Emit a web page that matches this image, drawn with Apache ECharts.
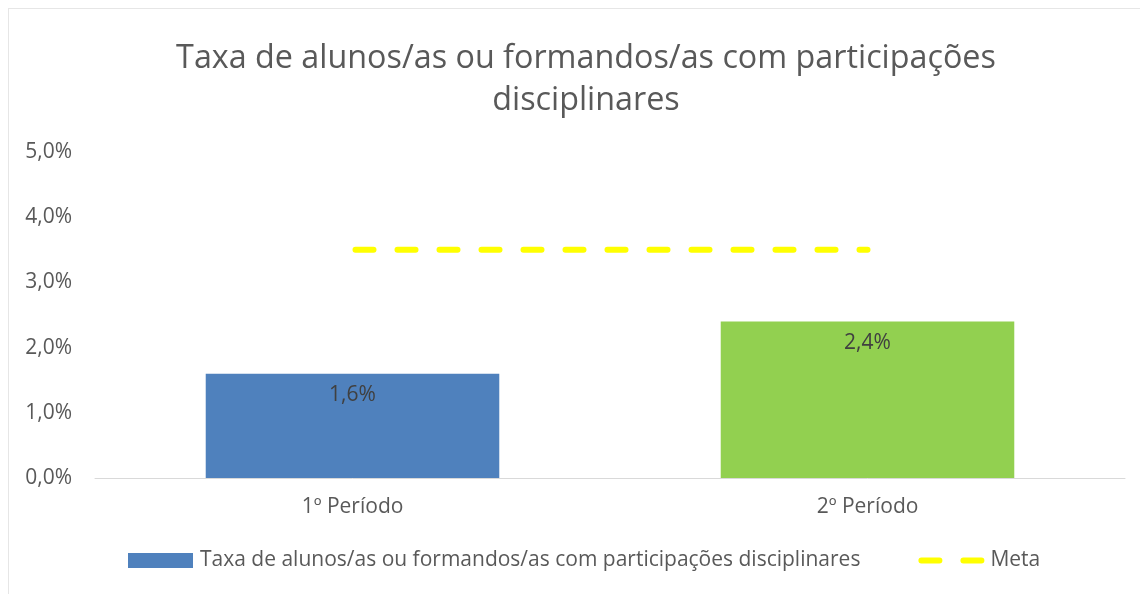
<!DOCTYPE html>
<html>
<head>
<meta charset="utf-8">
<script src="https://cdn.jsdelivr.net/npm/echarts@6/dist/echarts.min.js"></script>
<style>
  html, body { margin: 0; padding: 0; background: #fff; }
  #frame { position: absolute; left: 8px; top: 8px; width: 1200px; height: 700px; border-left: 1px solid #e6e6e6; border-top: 1px solid #e6e6e6; }
  #chart { position: absolute; left: 0; top: 0; width: 1140px; height: 594px; }
</style>
</head>
<body>
<div id="frame"></div>
<div id="chart"></div>
<script>
const categories = ["1º Período", "2º Período"];
const taxaValues = [1.6, 2.4];
const metaValues = [3.5, 3.5];
const barColors = ["#4F81BD", "#92D050"];
const serieTaxa = "Taxa de alunos/as ou formandos/as com participações disciplinares";
const serieMeta = "Meta";

const fmt = (v) => v.toFixed(1).replace(".", ",") + "%";
const font = "Open Sans";
const dash = [18, 24];

const myChart = echarts.init(document.getElementById("chart"));
const option = {
  backgroundColor: "transparent",
  title: {
    text: "Taxa de alunos/as ou formandos/as com participações\ndisciplinares",
    left: 581,
    textAlign: "center",
    top: 33,
    textStyle: {
      fontFamily: font,
      fontSize: 32.3,
      fontWeight: "normal",
      color: "#595959",
      lineHeight: 42,
    },
  },
  legend: {
    bottom: 18,
    left: 123,
    itemGap: 55,
    itemWidth: 65,
    itemHeight: 15,
    textStyle: { fontFamily: font, fontSize: 21, color: "#595959", padding: [0, 0, 0, 2] },
    data: [
      { name: serieTaxa, icon: "rect", itemStyle: { color: barColors[0] } },
      {
        name: serieMeta,
        itemStyle: { opacity: 0 },
        lineStyle: { color: "#FFFF00", width: 6, type: dash, cap: "round", dashOffset: -3 },
      },
    ],
  },
  grid: { left: 95, right: 15, top: 152, bottom: 116 },
  xAxis: {
    type: "category",
    data: categories,
    axisTick: { show: false },
    axisLine: { lineStyle: { color: "#d9d9d9", width: 1 } },
    axisLabel: { fontFamily: font, fontSize: 21, color: "#595959", margin: 19 },
  },
  yAxis: {
    type: "value",
    min: 0,
    max: 5,
    interval: 1,
    splitLine: { show: false },
    axisLabel: {
      fontFamily: font,
      fontSize: 21,
      color: "#595959",
      margin: 23,
      formatter: fmt,
    },
  },
  series: [
    {
      name: serieTaxa,
      type: "bar",
      barWidth: "57%",
      data: taxaValues.map((v, i) => ({ value: v, itemStyle: { color: barColors[i] } })),
      itemStyle: { color: barColors[0] },
      label: {
        show: true,
        position: "insideTop",
        distance: 11,
        fontFamily: font,
        fontSize: 21,
        color: "#404040",
        formatter: (p) => fmt(p.value),
      },
    },
    {
      name: serieMeta,
      type: "line",
      data: metaValues,
      symbol: "none",
      itemStyle: { color: "#FFFF00" },
      lineStyle: { color: "#FFFF00", width: 6, type: dash, cap: "round", dashOffset: -3 },
      z: 5,
    },
  ],
};
myChart.setOption(option);
</script>
</body>
</html>
